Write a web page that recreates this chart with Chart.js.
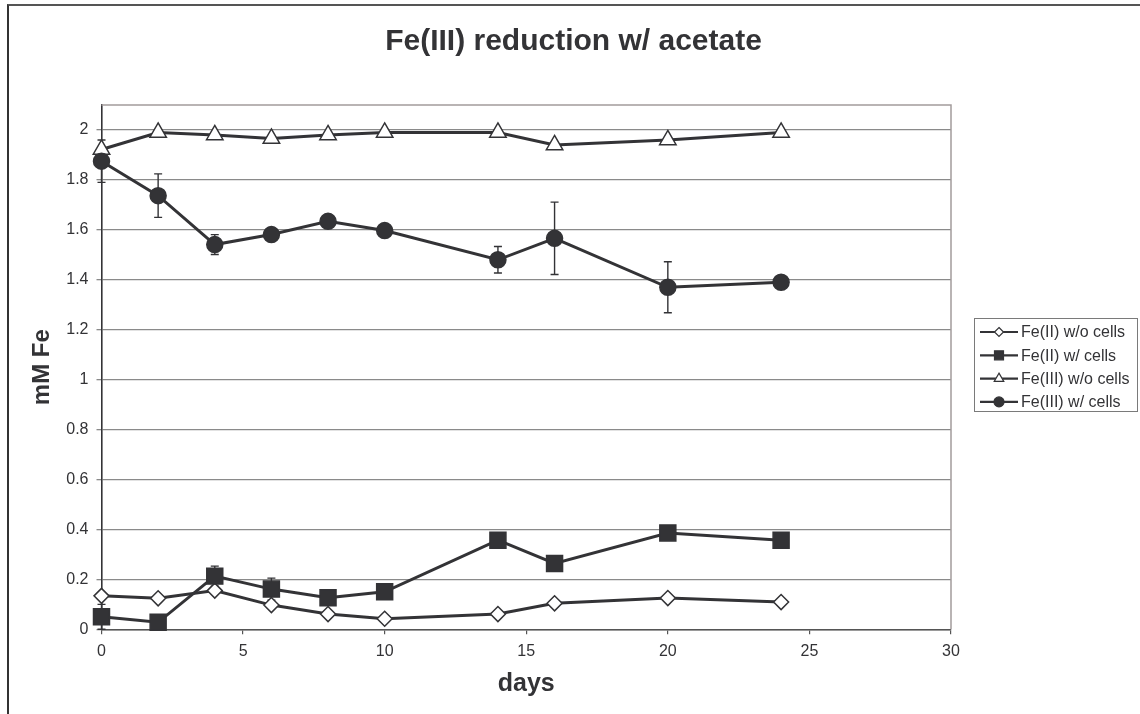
<!DOCTYPE html>
<html>
<head>
<meta charset="utf-8">
<script src="https://cdn.jsdelivr.net/npm/chart.js@4/dist/chart.umd.min.js"></script>
<style>
  body { margin: 0; background: #fff; }
  #wrap { position: relative; width: 1140px; height: 714px; overflow: hidden; }
  #frame { position: absolute; left: 7px; top: 4px; width: 1200px; height: 800px;
           border-left: 2px solid #333; border-top: 2px solid #555; }
  canvas { position: absolute; left: 0; top: 0; }
</style>
</head>
<body>
<div id="wrap">
  <div id="frame"></div>
  <canvas id="myChart" width="1140" height="714"></canvas>
</div>
<script>
//Data
let days = [0, 2, 4, 6, 8, 10, 14, 16, 20, 24];
let fe2NoCells = [0.134, 0.124, 0.155, 0.097, 0.061, 0.042, 0.061, 0.104, 0.125, 0.109];
let fe2Cells = [0.050, 0.028, 0.213, 0.161, 0.126, 0.150, 0.357, 0.264, 0.386, 0.357];
let fe2CellsErr = [0.05, 0, 0.04, 0.044, 0, 0, 0, 0, 0, 0];
let fe3NoCells = [1.922, 1.990, 1.980, 1.966, 1.980, 1.990, 1.990, 1.940, 1.960, 1.990];
let fe3Cells = [1.875, 1.737, 1.541, 1.581, 1.634, 1.597, 1.480, 1.566, 1.370, 1.390];
let fe3CellsErr = [0.085, 0.087, 0.04, 0, 0, 0, 0.053, 0.145, 0.102, 0];
let seriesNames = ['Fe(II) w/o cells', 'Fe(II) w/ cells', 'Fe(III) w/o cells', 'Fe(III) w/ cells'];
let xTicks = [0, 5, 10, 15, 20, 25, 30];
let yTicks = [0, 0.2, 0.4, 0.6, 0.8, 1, 1.2, 1.4, 1.6, 1.8, 2];

const ink = '#333336';
const FONT = '"Liberation Sans", Arial, Helvetica, sans-serif';

function toPoints(values) {
    return days.map(function (d, i) { return {x: d, y: values[i]}; });
}

//Datasets
let dataset = [
    {label: seriesNames[0], data: toPoints(fe2NoCells), pointStyle: 'rectRot', pointRadius: 7.5,
        backgroundColor: '#fff', legendR: 4.5, order: 3},
    {label: seriesNames[1], data: toPoints(fe2Cells), pointStyle: 'rect', pointRadius: 11.3,
        backgroundColor: ink, errors: fe2CellsErr, legendR: 4.5, order: 1},
    {label: seriesNames[2], data: toPoints(fe3NoCells), pointStyle: 'triangle', pointRadius: 9.5,
        backgroundColor: '#fff', legendR: 5.5, order: 4},
    {label: seriesNames[3], data: toPoints(fe3Cells), pointStyle: 'circle', pointRadius: 8,
        backgroundColor: ink, errors: fe3CellsErr, legendR: 5, order: 2},
];
dataset.forEach(function (ds) {
    ds.showLine = true;
    ds.clip = false;
    ds.borderColor = ink;
    ds.borderWidth = 3;
    ds.pointBorderColor = ink;
    ds.pointBorderWidth = 1.5;
    ds.pointBackgroundColor = ds.backgroundColor;
    ds.pointHoverRadius = ds.pointRadius;
    ds.tension = 0;
});

//Error bars, drawn under the markers
const errorBars = {
    id: 'errorBars',
    beforeDatasetsDraw(chart) {
        const ctx = chart.ctx;
        const xs = chart.scales.x, ys = chart.scales.y;
        ctx.save();
        ctx.strokeStyle = ink;
        ctx.lineWidth = 1.4;
        chart.data.datasets.forEach(function (ds) {
            if (!ds.errors) return;
            ds.data.forEach(function (p, i) {
                let e = ds.errors[i];
                if (!e) return;
                let px = xs.getPixelForValue(p.x);
                let top = ys.getPixelForValue(p.y + e);
                let bot = ys.getPixelForValue(p.y - e);
                ctx.beginPath();
                ctx.moveTo(px, top); ctx.lineTo(px, bot);
                ctx.moveTo(px - 4, top); ctx.lineTo(px + 4, top);
                ctx.moveTo(px - 4, bot); ctx.lineTo(px + 4, bot);
                ctx.stroke();
            });
        });
        ctx.restore();
    }
};

//Top and right border of the plot area
const plotFrame = {
    id: 'plotFrame',
    beforeDatasetsDraw(chart) {
        const a = chart.chartArea, ctx = chart.ctx;
        ctx.save();
        ctx.strokeStyle = '#a39c9c';
        ctx.lineWidth = 1.5;
        ctx.beginPath();
        ctx.moveTo(a.left, a.top); ctx.lineTo(a.right, a.top); ctx.lineTo(a.right, a.bottom);
        ctx.stroke();
        ctx.restore();
    }
};

function drawMarker(ctx, style, x, y, r) {
    ctx.beginPath();
    if (style === 'circle') {
        ctx.arc(x, y, r, 0, Math.PI * 2);
    } else if (style === 'rect') {
        ctx.rect(x - r, y - r, 2 * r, 2 * r);
    } else if (style === 'rectRot') {
        ctx.moveTo(x, y - r); ctx.lineTo(x + r, y); ctx.lineTo(x, y + r); ctx.lineTo(x - r, y);
        ctx.closePath();
    } else if (style === 'triangle') {
        ctx.moveTo(x, y - r); ctx.lineTo(x + r * 0.87, y + r * 0.5); ctx.lineTo(x - r * 0.87, y + r * 0.5);
        ctx.closePath();
    }
    ctx.fill();
    ctx.stroke();
}

//Legend box on the right
const sideLegend = {
    id: 'sideLegend',
    afterDraw(chart) {
        const ctx = chart.ctx;
        ctx.save();
        ctx.strokeStyle = '#7a7a7a';
        ctx.lineWidth = 1;
        ctx.strokeRect(974.5, 318.5, 163, 93);
        ctx.font = '16px ' + FONT;
        ctx.textBaseline = 'middle';
        ctx.fillStyle = ink;
        chart.data.datasets.forEach(function (ds, i) {
            let y = 332 + i * 23.3;
            ctx.strokeStyle = ink;
            ctx.lineWidth = 2.2;
            ctx.beginPath();
            ctx.moveTo(980, y); ctx.lineTo(1018, y);
            ctx.stroke();
            ctx.lineWidth = 1.2;
            ctx.fillStyle = ds.backgroundColor;
            drawMarker(ctx, ds.pointStyle, 999, y, ds.legendR);
            ctx.fillStyle = ink;
            ctx.fillText(ds.label, 1021, y + 1);
        });
        ctx.restore();
    }
};

//Graphique
const ctx = document.getElementById('myChart').getContext('2d');
const myChart = new Chart(ctx, {
    type: 'scatter',
    data: {datasets: dataset},
    plugins: [plotFrame, errorBars, sideLegend],
    options: {
        responsive: false,
        animation: false,
        layout: {padding: {left: 7, right: 0, top: 0, bottom: 0}},
        plugins: {
            legend: {display: false},
            tooltip: {enabled: false},
            title: {
                display: true,
                text: 'Fe(III) reduction w/ acetate',
                color: ink,
                font: {family: FONT, size: 30, weight: 'bold'},
                padding: {top: 24, bottom: 45}
            }
        },
        scales: {
            x: {
                type: 'linear',
                min: 0,
                max: 30,
                afterBuildTicks: (s) => { s.ticks = xTicks.map(v => ({value: v})); },
                afterFit: (s) => { s.height = 84.7; },
                grid: {drawOnChartArea: false, drawTicks: true, tickLength: 5, color: '#555', lineWidth: 1.2},
                border: {color: '#555', width: 1.5},
                ticks: {color: ink, font: {family: FONT, size: 16}, padding: 8, maxRotation: 0},
                title: {
                    display: true,
                    text: 'days',
                    color: ink,
                    font: {family: FONT, size: 25, weight: 'bold'},
                    padding: {top: 4, bottom: 15}
                }
            },
            y: {
                type: 'linear',
                min: 0,
                max: 2.1,
                afterBuildTicks: (s) => { s.ticks = yTicks.map(v => ({value: v})); },
                afterFit: (s) => { s.width = 94.5; },
                grid: {color: '#8a8a8a', lineWidth: 1.3, tickLength: 5},
                border: {color: ink, width: 1.6},
                ticks: {color: ink, font: {family: FONT, size: 16}, padding: 8,
                    callback: (v) => String(Math.round(v * 10) / 10)},
                title: {
                    display: true,
                    text: 'mM Fe',
                    color: ink,
                    font: {family: FONT, size: 24, weight: 'bold'},
                    padding: {top: 21, bottom: 4}
                }
            },
            y2: {
                type: 'linear',
                position: 'right',
                display: true,
                grid: {display: false},
                border: {display: false},
                ticks: {display: false},
                afterFit: (s) => { s.width = 189; }
            }
        }
    }
});
</script>
</body>
</html>
